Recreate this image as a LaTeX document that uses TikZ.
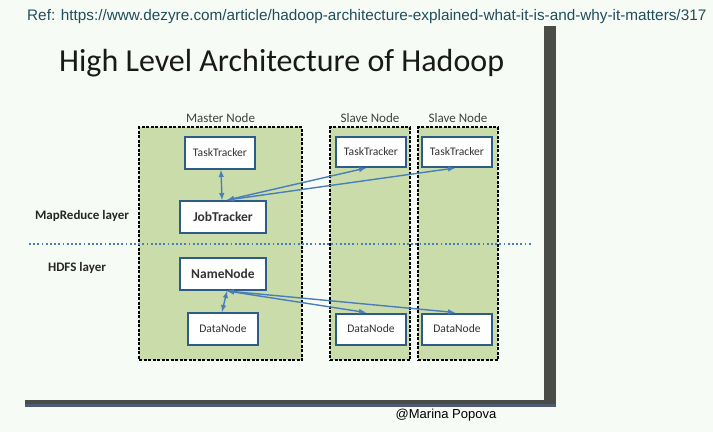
\documentclass[tikz,border=0pt]{standalone}
\usepackage{fontspec}
\setmainfont{Carlito}
\newfontfamily\arialfont{Liberation Sans}
\usetikzlibrary{arrows}

\begin{document}
\begin{tikzpicture}[x=1pt,y=-1pt]
  \definecolor{pagebg}{HTML}{F7FBF5}
  \definecolor{slidegreen}{HTML}{C9DCA9}
  \definecolor{boxline}{HTML}{2E5C8A}
  \definecolor{linkblue}{HTML}{4A7EBB}
  \definecolor{frameg}{HTML}{4A4C48}
  \definecolor{frameb}{HTML}{4E5A74}
  \definecolor{reftext}{HTML}{1F4E5A}
  \tikzset{
    cluster/.style={draw=black,fill=slidegreen,line width=1.4pt,dash pattern=on 3pt off 1.5pt,minimum width=80pt,minimum height=233pt},
    proc/.style={draw=boxline,fill=white,line width=2pt,minimum width=70pt,minimum height=31pt,text=black!80,font=\fontsize{11.6}{14}\selectfont},
    mainproc/.style={proc,minimum width=86pt,minimum height=32pt,font=\bfseries\fontsize{13.5}{15}\selectfont},
    link/.style={draw=linkblue,line width=1.4pt,latex-latex},
    hdr/.style={text=black!75,font=\fontsize{13}{15}\selectfont},
    layer/.style={text=black!85,font=\bfseries\fontsize{13}{15}\selectfont}
  }
  \fill [pagebg] (0,0) rectangle (713,432);
  \useasboundingbox (0,0) rectangle (713,432);
  % slide frame
  \fill [frameg] (544,26) rectangle (556,407);
  \fill [frameg] (25,400) rectangle (556,404);
  \fill [frameb] (25,404) rectangle (556,407);
  \node [anchor=base west,inner sep=0pt,text=reftext,font=\arialfont\fontsize{15.3}{17}\selectfont] (ref) at (27,20)
    {Ref: https://www.dezyre.com/article/hadoop-architecture-explained-what-it-is-and-why-it-matters/317};
  \node [anchor=base west,inner sep=0pt,text=black!90,font=\fontsize{32}{36}\selectfont] (title) at (59,71)
    {High Level Architecture of Hadoop};
  % node columns
  \node [cluster,minimum width=163pt] (master) at (220.5,243.5) {};
  \node [cluster] (slavea) at (370,243.5) {};
  \node [cluster] (slaveb) at (458,243.5) {};
  \node [hdr,above=0pt] (masterlbl) at (master.north) {Master Node};
  \node [hdr,above=0pt] (slavealbl) at (slavea.north) {Slave Node};
  \node [hdr,above=0pt] (slaveblbl) at (slaveb.north) {Slave Node};
  % layers
  \draw [linkblue,line width=1.8pt,dash pattern=on 1.8pt off 2.4pt] (29,244) -- (532,244);
  \node [layer] (mrlayer) at (82,216) {MapReduce layer};
  \node [layer] (hdfslayer) at (77,268) {HDFS layer};
  % processes
  \node [proc,minimum height=32pt] (mtask) at (220,153) {TaskTracker};
  \node [mainproc] (jobtr) at (223,217) {JobTracker};
  \node [proc,minimum height=30pt] (atask) at (371,152) {TaskTracker};
  \node [proc,minimum height=30pt] (btask) at (457,152) {TaskTracker};
  \node [mainproc] (namen) at (223,274) {NameNode};
  \node [proc,minimum height=32pt] (mdata) at (223,329) {DataNode};
  \node [proc] (adata) at (371,329) {DataNode};
  \node [proc] (bdata) at (457,329) {DataNode};
  % links
  \draw [link] ([xshift=1pt]mtask.south) -- ([xshift=-1pt]jobtr.north);
  \draw [link] ([xshift=4pt]jobtr.north) -- ([xshift=-5pt]atask.south);
  \draw [link] ([xshift=4pt]jobtr.north) -- ([xshift=-2pt]btask.south);
  \draw [link] ([xshift=4pt]namen.south) -- ([xshift=-1pt]mdata.north);
  \draw [link] ([xshift=4pt]namen.south) -- ([xshift=-5pt]adata.north);
  \draw [link] ([xshift=4pt]namen.south) -- ([xshift=-2pt]bdata.north);
  \node [anchor=base,font=\arialfont\fontsize{13}{15}\selectfont] (credit) at (446,418) {@Marina Popova};
\end{tikzpicture}
\end{document}
